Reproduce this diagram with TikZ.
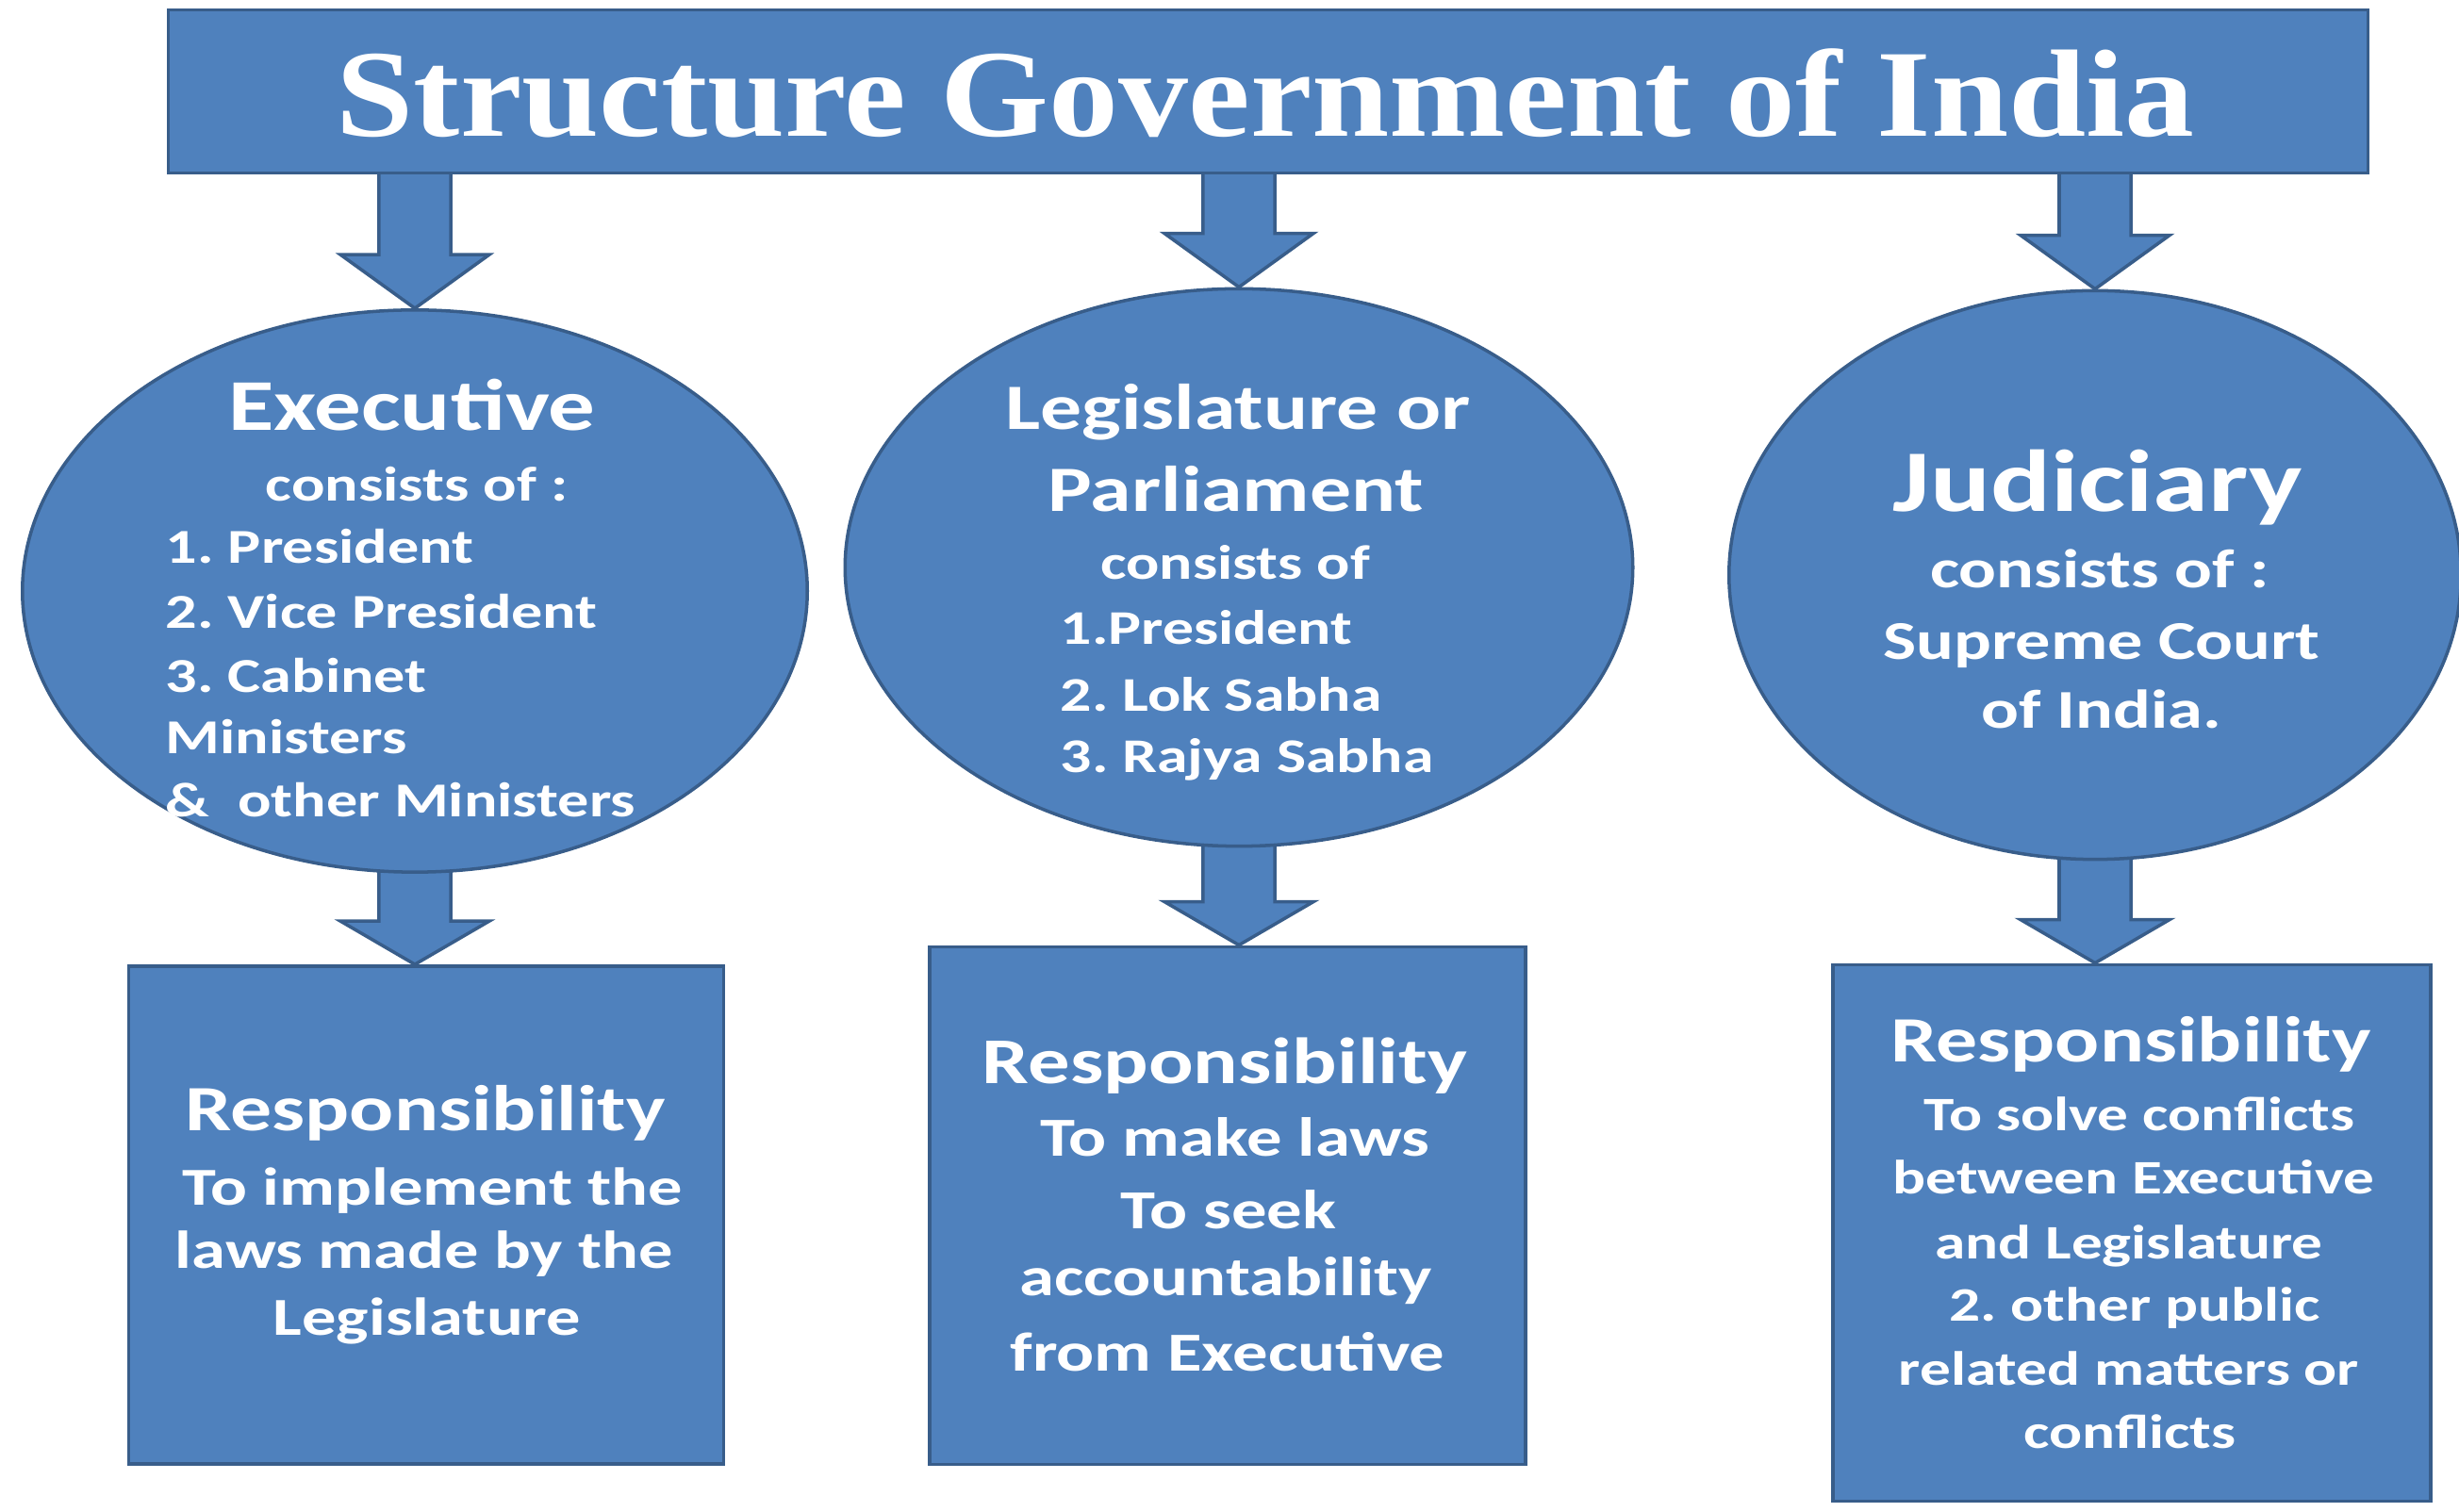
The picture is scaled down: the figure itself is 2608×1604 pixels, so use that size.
\documentclass[tikz,border=0pt]{standalone}
\usepackage{fontspec}
\newfontfamily\titlefont[FakeStretch=1.12]{Liberation Serif}
\newfontfamily\bodyfont[FakeStretch=1.28]{Carlito}
\usetikzlibrary{shapes.geometric, backgrounds, calc}
\definecolor{govfill}{HTML}{4F81BD}
\definecolor{govline}{HTML}{385D8A}
\tikzset{
  govshape/.style={draw=govline, fill=govfill, line width=1pt},
  titlebox/.style={govshape, rectangle, inner sep=0pt},
  branch/.style={govshape, ellipse, inner sep=0pt},
  dutybox/.style={govshape, rectangle, inner sep=0pt},
  arrowbody/.style={govshape, line join=miter},
  lbl/.style={font=\bodyfont\bfseries\fontsize{#1}{#1}\selectfont\frenchspacing,
    text=white, inner sep=0pt, anchor=base}
}

% block arrow: [head length]{shaft start}{tip}
\newcommand{\blockarrow}[3][0.57cm]{%
  \draw[arrowbody] let \p1=(#2), \p2=(#3) in
    (\x2-0.38cm,\y1) -- (\x2-0.38cm,\y2+#1) -- (\x2-0.79cm,\y2+#1) -- (\x2,\y2)
    -- (\x2+0.79cm,\y2+#1) -- (\x2+0.38cm,\y2+#1) -- (\x2+0.38cm,\y1) -- cycle;}

\begin{document}
\frenchspacing
\begin{tikzpicture}[x=0.01cm, y=-0.01cm]
\useasboundingbox (0,0) rectangle (2608,1604);

% title
\node[titlebox, minimum width=23.32cm, minimum height=1.73cm](title) at (1345,97){};
\node[font=\titlefont\bfseries\fontsize{37.5}{40}\selectfont, text=white,
  inner sep=0pt, anchor=base](titletext) at (1342,145){Structure Government of India};

% three branches
\node[branch, minimum width=8.32cm, minimum height=5.96cm](exec) at (440,627){};
\node[branch, minimum width=8.35cm, minimum height=5.91cm](legis) at (1314,602){};
\node[branch, minimum width=7.76cm, minimum height=6.03cm](judic) at (2222,610){};

% responsibilities
\node[dutybox, minimum width=6.31cm, minimum height=5.28cm](execduty) at (452,1289){};
\node[dutybox, minimum width=6.32cm, minimum height=5.49cm](legisduty) at (1302,1279){};
\node[dutybox, minimum width=6.34cm, minimum height=5.69cm](judicduty) at (2261,1308){};

\begin{pgfonlayer}{background}
\blockarrow{exec.north |- title.center}{exec.north}
\blockarrow{legis.north |- title.center}{legis.north}
\blockarrow{judic.north |- title.center}{judic.north}
\blockarrow[0.46cm]{exec.center}{exec.south |- execduty.north}
\blockarrow[0.46cm]{legis.center}{legis.south |- legisduty.north}
\blockarrow[0.46cm]{judic.center}{judic.south |- judicduty.north}
\end{pgfonlayer}

% executive
\node[lbl=22](exechead) at (437,457){Executive};
\node[lbl=14.7](execsub) at (442,532){consists of :};
\foreach \yy/\txt [count=\i] in {598/1. President, 667/2. Vice President,
    735/3. Cabinet, 800/Ministers, 867/{\&\ \ other Ministers}}
  \node[lbl=14.7, anchor=base west](execitem\i) at (175,\yy){\txt};

% legislature
\node[lbl=19.5](legishead1) at (1313,456){Legislature or};
\node[lbl=19.5](legishead2) at (1311,543){Parliament};
\node[lbl=14.6](legissub) at (1310,615){consists of};
\foreach \yy/\txt [count=\i] in {684/1.President, 755/2. Lok Sabha, 820/3. Rajya Sabha}
  \node[lbl=14.6, anchor=base west](legisitem\i) at (1124,\yy){\txt};

% judiciary
\node[lbl=26.5](judichead) at (2225,543){Judiciary};
\foreach \xx/\yy/\txt [count=\i] in {2227/624/consists of :, 2229/700/Supreme Court,
    2229/773/of India.}
  \node[lbl=16.5](judicitem\i) at (\xx,\yy){\txt};

% responsibility texts
\node[lbl=19.5](execdutyhead) at (451,1200){Responsibility};
\foreach \xx/\yy/\txt [count=\i] in {459/1279/To implement the,
    450/1346/laws made by the, 453/1417/Legislature}
  \node[lbl=16.1](execdutyline\i) at (\xx,\yy){\txt};

\node[lbl=19.7](legisdutyhead) at (1299,1150){Responsibility};
\foreach \xx/\yy/\txt [count=\i] in {1310/1227/To make laws, 1303/1304/To seek,
    1300/1375/accountability, 1302/1455/from Executive}
  \node[lbl=16.6](legisdutyline\i) at (\xx,\yy){\txt};

\node[lbl=19.5](judicdutyhead) at (2260,1127){Responsibility};
\foreach \xx/\yy/\txt [count=\i] in {2269/1200/To solve conflicts,
    2263/1267/between Executive, 2258/1336/and Legislature,
    2264/1402/2. other public, 2258/1469/related matters or, 2259/1536/conflicts}
  \node[lbl=14.5](judicdutyline\i) at (\xx,\yy){\txt};

\end{tikzpicture}
\end{document}
